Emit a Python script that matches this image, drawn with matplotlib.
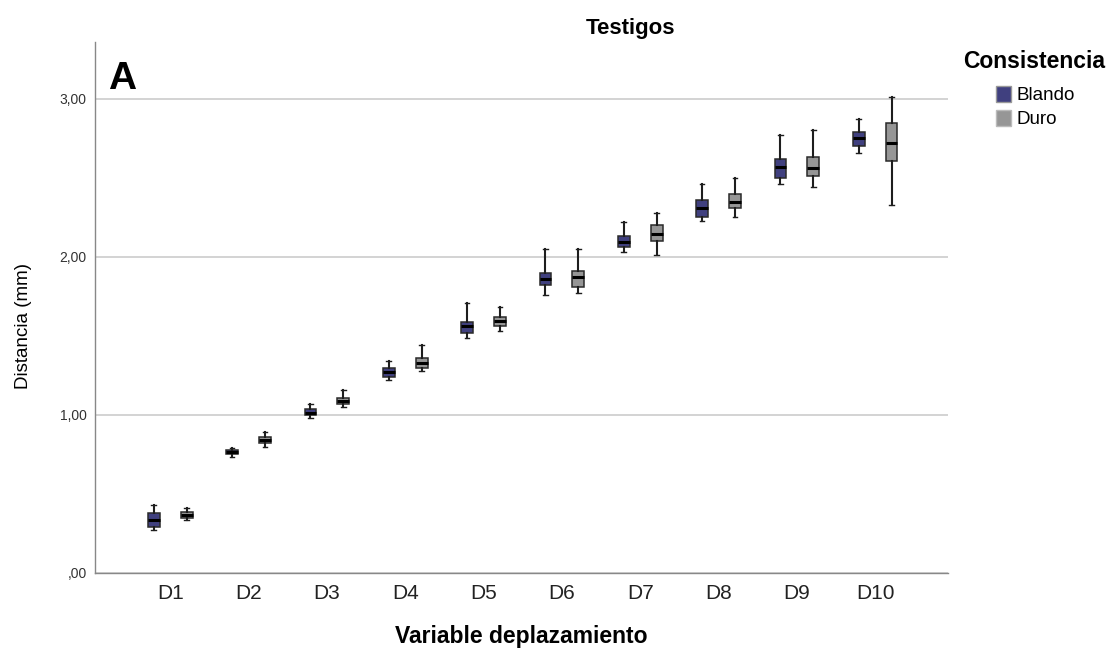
import numpy as np
import matplotlib.pyplot as plt
from matplotlib.patches import Patch

plt.rcParams['font.family'] = ['Liberation Sans', 'DejaVu Sans']

categorias = ["D1", "D2", "D3", "D4", "D5", "D6", "D7", "D8", "D9", "D10"]

# estadisticos: minimo, Q1, mediana, Q3, maximo
blando_min = [0.27, 0.735, 0.98, 1.22, 1.49, 1.76, 2.03, 2.23, 2.46, 2.66]
blando_q1 = [0.29, 0.75, 1.00, 1.24, 1.52, 1.82, 2.06, 2.25, 2.50, 2.70]
blando_med = [0.335, 0.765, 1.01, 1.27, 1.56, 1.86, 2.095, 2.31, 2.57, 2.75]
blando_q3 = [0.38, 0.78, 1.04, 1.30, 1.59, 1.90, 2.13, 2.36, 2.62, 2.79]
blando_max = [0.43, 0.79, 1.07, 1.34, 1.71, 2.05, 2.22, 2.46, 2.77, 2.87]

duro_min = [0.335, 0.80, 1.05, 1.28, 1.53, 1.77, 2.01, 2.25, 2.44, 2.33]
duro_q1 = [0.35, 0.82, 1.07, 1.30, 1.56, 1.81, 2.10, 2.31, 2.51, 2.61]
duro_med = [0.37, 0.84, 1.09, 1.33, 1.595, 1.87, 2.145, 2.35, 2.56, 2.72]
duro_q3 = [0.385, 0.86, 1.11, 1.36, 1.62, 1.91, 2.20, 2.40, 2.63, 2.85]
duro_max = [0.41, 0.89, 1.16, 1.44, 1.68, 2.05, 2.28, 2.50, 2.80, 3.01]


def estadisticos(mn, q1, med, q3, mx):
    stats = []
    for i in range(len(mn)):
        stats.append({"whislo": mn[i], "q1": q1[i], "med": med[i],
                      "q3": q3[i], "whishi": mx[i], "fliers": []})
    return stats


fig = plt.figure(figsize=(11.14, 6.52), dpi=100)
ax = fig.add_axes([0.0853, 0.1212, 0.7657, 0.8144])

x = np.arange(len(categorias))
grupos = [
    (estadisticos(blando_min, blando_q1, blando_med, blando_q3, blando_max), -0.21, "#40407f"),
    (estadisticos(duro_min, duro_q1, duro_med, duro_q3, duro_max), 0.21, "#969696"),
]
for stats, desp, color in grupos:
    ax.bxp(stats, positions=x + desp, widths=0.15, patch_artist=True,
           showfliers=False, manage_ticks=False,
           boxprops=dict(facecolor=color, edgecolor="#2a2a2a", linewidth=1.1),
           medianprops=dict(color="black", linewidth=2.2),
           whiskerprops=dict(color="#1e1e1e", linewidth=1.5),
           capprops=dict(color="#1e1e1e", linewidth=1.0),
           capwidths=0.06, zorder=3)

ax.set_xlim(-0.96, 9.93)
ax.set_ylim(0, 3.36)
ax.set_xticks(x)
ax.set_xticklabels(categorias, fontsize=15, color="#222222")
ax.set_yticks([0, 1, 2, 3])
ax.set_yticklabels([",00", "1,00", "2,00", "3,00"], fontsize=10, color="#333333")
ax.tick_params(axis="both", length=0)
ax.tick_params(axis="x", pad=8)
ax.tick_params(axis="y", pad=6)
ax.yaxis.grid(True, color="#cccccc", linewidth=1.2, zorder=0)
ax.set_axisbelow(True)
for lado in ["top", "right"]:
    ax.spines[lado].set_visible(False)
for lado in ["left", "bottom"]:
    ax.spines[lado].set_color("#888888")
    ax.spines[lado].set_linewidth(1.0)

ax.set_ylabel("Distancia (mm)", fontsize=13.5)
ax.yaxis.set_label_coords(-0.074, 0.465)
ax.set_xlabel("Variable deplazamiento", fontsize=16.5, fontweight="bold", labelpad=16)
fig.text(0.566, 0.957, "Testigos", ha="center", va="center", fontsize=16, fontweight="bold")
ax.text(0.015, 0.93, "A", transform=ax.transAxes, fontsize=28, fontweight="bold",
        ha="left", va="center")

fig.text(0.8645, 0.905, "Consistencia", ha="left", va="center", fontsize=16.5, fontweight="bold")
manijas = [Patch(facecolor="#40407f", edgecolor="#999999", label="Blando"),
           Patch(facecolor="#969696", edgecolor="#bbbbbb", label="Duro")]
fig.legend(handles=manijas, loc="upper left", bbox_to_anchor=(0.894, 0.868),
           frameon=False, fontsize=13.5, handlelength=0.8, handleheight=0.9,
           handletextpad=0.3, labelspacing=0.3, borderpad=0, borderaxespad=0)

fig.savefig("out.png", dpi=100)
